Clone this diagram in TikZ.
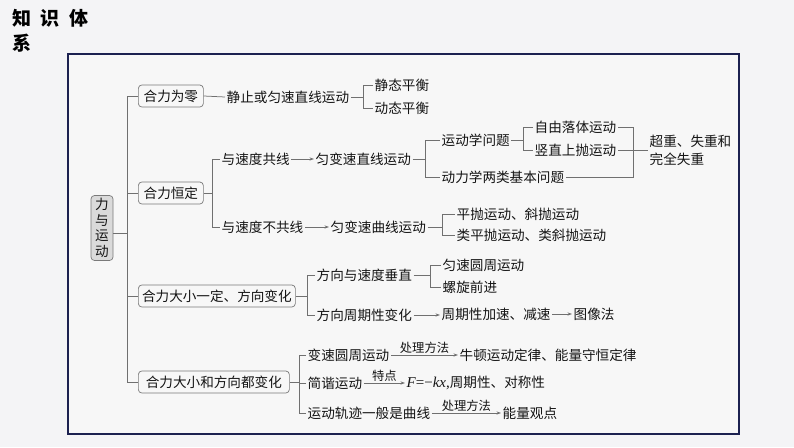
\documentclass[tikz,border=0pt]{standalone}
\usepackage{fontspec}
\setmainfont{Noto Sans CJK SC}
\newfontfamily\lser{Liberation Serif}
\usetikzlibrary{arrows.meta,calc}
\definecolor{bg}{HTML}{F4F4F6}
\definecolor{inbg}{HTML}{F7F7F7}
\definecolor{framec}{HTML}{1C2150}
\definecolor{lg}{HTML}{707070}
\definecolor{bx}{HTML}{7A7A7A}
\definecolor{rootfill}{HTML}{DADADA}
\definecolor{tx}{HTML}{141414}
\newcommand{\mfont}{\fontsize{13.6}{16}\selectfont}
\begin{document}
\begin{tikzpicture}[x=1pt,y=-1pt,
 txt/.style={anchor=west,inner xsep=1.5pt,inner ysep=1pt,text=tx,font=\mfont},
 lvl/.style={draw=bx,line width=0.7pt,rounded corners=3.5pt,fill=inbg,anchor=west,minimum height=22pt,inner xsep=3.5pt,text=tx,font=\mfont},
 ln/.style={draw=lg,line width=0.75pt},
 arr/.style={ln,-{Stealth[length=4.5pt,width=3.2pt]}},
 lbl/.style={font=\fontsize{12.3}{14}\selectfont,text=tx,inner sep=1pt,above}]
\useasboundingbox (0,0) rectangle (794,447);
\fill[bg] (0,0) rectangle (794,447);
\draw[framec,line width=1.8pt,fill=inbg] (68,54) rectangle (739,434);
% title
\node[anchor=west,inner sep=0,font=\fontsize{19}{21}\selectfont\bfseries] (ti1) at (12,18) {知\hspace{9.5pt}识\hspace{9.5pt}体};
\node[anchor=west,inner sep=0,font=\fontsize{19}{21}\selectfont\bfseries] (ti2) at (12,43) {系};
% root
\node[draw=bx,line width=0.7pt,fill=rootfill,rounded corners=3.5pt,align=center,inner xsep=2pt,inner ysep=2pt,
  minimum width=22pt,minimum height=65pt,text=tx,font=\fontsize{13.6}{15.5}\selectfont] (root) at (102,228) {力\\与\\运\\动};
% level 1
\node[lvl,minimum width=65pt] (b1) at (138,96) {合力为零};
\node[lvl,minimum width=65pt] (b2) at (138,193) {合力恒定};
\node[lvl,minimum width=157pt] (b3) at (138,296) {合力大小一定、方向变化};
\node[lvl,minimum width=151pt] (b4) at (138,382) {合力大小和方向都变化};
\coordinate (tk) at (127,0);
\draw[ln] (b1.west) -- (b1.west -| tk) -- (b4.west -| tk) -- (b4.west);
\draw[ln] (b2.west) -- (b2.west -| tk);
\draw[ln] (b3.west) -- (b3.west -| tk);
\draw[ln] ([yshift=-5pt]root.east) -- ([yshift=-5pt]root.east -| tk);
% branch 1
\node[txt] (t1) at (225,97) {静止或匀速直线运动};
\node[txt] (t11) at (373,85) {静态平衡};
\node[txt] (t12) at (373,108) {动态平衡};
\coordinate (k1) at (363,0);
\draw[ln] (b1.east) -- (t1.west);
\draw[ln] (t1.east) -- (t1.east -| k1);
\draw[ln] (t11.west) -- (t11.west -| k1) -- (t12.west -| k1) -- (t12.west);
% branch 2
\node[txt] (t2a) at (220,159) {与速度共线};
\node[txt] (t2a1) at (314,159) {匀变速直线运动};
\node[txt] (t2a1a) at (440,140) {运动学问题};
\node[txt] (t2a1a1) at (533,127) {自由落体运动};
\node[txt] (t2a1a2) at (533,150) {竖直上抛运动};
\node[txt] (t2a1b) at (440,177) {动力学两类基本问题};
\node[txt,align=left,font=\fontsize{13.6}{18}\selectfont] (t2a2) at (648,150) {超重、失重和\\完全失重};
\node[txt] (t2b) at (220,227) {与速度不共线};
\node[txt] (t2b1) at (329,227) {匀变速曲线运动};
\node[txt] (t2b1a) at (455,214) {平抛运动、斜抛运动};
\node[txt] (t2b1b) at (455,235) {类平抛运动、类斜抛运动};
\coordinate (k2) at (212,0);
\coordinate (k3) at (425,0);
\coordinate (k4) at (523,0);
\coordinate (k5) at (633,0);
\coordinate (k6) at (442,0);
\draw[ln] (b2.east) -- (b2.east -| k2);
\draw[ln] (t2a.west) -- (t2a.west -| k2) -- (t2b.west -| k2) -- (t2b.west);
\draw[arr] (t2a.east) -- (t2a1.west);
\draw[ln] (t2a1.east) -- (t2a1.east -| k3);
\draw[ln] (t2a1a.west) -- (t2a1a.west -| k3) -- (t2a1b.west -| k3) -- (t2a1b.west);
\draw[ln] (t2a1a.east) -- (t2a1a.east -| k4);
\draw[ln] (t2a1a1.west) -- (t2a1a1.west -| k4) -- (t2a1a2.west -| k4) -- (t2a1a2.west);
\draw[ln] (t2a1a1.east) -- (t2a1a1.east -| k5) -- (t2a1b.east -| k5) -- (t2a1b.east);
\draw[ln] (t2a1a2.east) -- (t2a2.west);
\draw[arr] (t2b.east) -- (t2b1.west);
\draw[ln] (t2b1.east) -- (t2b1.east -| k6);
\draw[ln] (t2b1a.west) -- (t2b1a.west -| k6) -- (t2b1b.west -| k6) -- (t2b1b.west);
% branch 3
\node[txt] (t3a) at (315,275) {方向与速度垂直};
\node[txt] (t3a1) at (441,265) {匀速圆周运动};
\node[txt] (t3a2) at (441,287) {螺旋前进};
\node[txt] (t3b) at (315,315) {方向周期性变化};
\node[txt] (t3b1) at (440,314) {周期性加速、减速};
\node[txt] (t3b2) at (572,314) {图像法};
\coordinate (k7) at (307,0);
\coordinate (k8) at (430,0);
\draw[ln] (b3.east) -- (b3.east -| k7);
\draw[ln] (t3a.west) -- (t3a.west -| k7) -- (t3b.west -| k7) -- (t3b.west);
\draw[ln] (t3a.east) -- (t3a.east -| k8);
\draw[ln] (t3a1.west) -- (t3a1.west -| k8) -- (t3a2.west -| k8) -- (t3a2.west);
\draw[arr] (t3b.east) -- (t3b1.west |- t3b.east);
\draw[arr] (t3b1.east) -- (t3b2.west);
% branch 4
\node[txt] (t4a) at (306,355) {变速圆周运动};
\node[txt] (t4a1) at (458,355) {牛顿运动定律、能量守恒定律};
\node[txt] (t4b) at (306,383) {简谐运动};
\node[txt] (t4b1) at (405,383) {{\lser\fontsize{15}{16}\selectfont\itshape F}{\lser\fontsize{15}{16}\selectfont =−}{\lser\fontsize{15}{16}\selectfont\itshape kx}{\lser\fontsize{15}{16}\selectfont ,}周期性、对称性};
\node[txt] (t4c) at (306,413) {运动轨迹一般是曲线};
\node[txt] (t4c1) at (501,413) {能量观点};
\coordinate (k9) at (299,0);
\draw[ln] (b4.east) -- (b4.east -| k9);
\draw[ln] (t4a.west) -- (t4a.west -| k9) -- (t4c.west -| k9) -- (t4c.west);
\draw[ln] (t4b.west) -- (t4b.west -| k9);
\draw[arr] (t4a.east) -- node[lbl] (l1) {处理方法} (t4a1.west);
\draw[arr] (t4b.east) -- node[lbl] (l2) {特点} (t4b1.west);
\draw[arr] (t4c.east) -- node[lbl] (l3) {处理方法} (t4c1.west);
\end{tikzpicture}
\end{document}
